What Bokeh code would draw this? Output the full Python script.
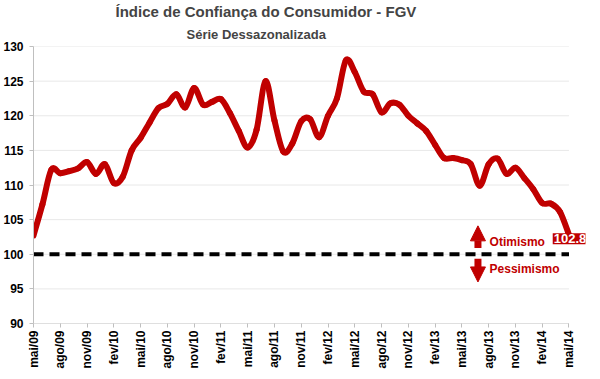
import numpy as np
from bokeh.plotting import figure
from bokeh.models import Range1d, FixedTicker, Label, Arrow, NormalHead, Title
from bokeh.embed import file_html
from bokeh.resources import INLINE

# ---------------- data ----------------
title_text = "Índice de Confiança do Consumidor - FGV"
subtitle_text = "Série Dessazonalizada"

tick_labels = ["mai/09", "ago/09", "nov/09", "fev/10", "mai/10", "ago/10", "nov/10",
               "fev/11", "mai/11", "ago/11", "nov/11", "fev/12", "mai/12", "ago/12",
               "nov/12", "fev/13", "mai/13", "ago/13", "nov/13", "fev/14", "mai/14"]

# monthly values, mai/09 .. mai/14 (61 months)
values = [102.7, 107.2, 112.2, 111.7, 112.0, 112.4, 113.3, 111.6, 113.0, 110.3,
          111.2, 115.0, 116.8, 119.0, 121.1, 121.7, 123.1, 121.2, 124.0, 121.6,
          122.0, 122.4, 120.4, 117.8, 115.4, 118.0, 125.0, 119.3, 114.8, 116.0,
          119.2, 119.5, 116.9, 120.0, 122.5, 128.0, 126.3, 123.5, 123.1, 120.5,
          121.8, 121.6, 120.0, 118.9, 117.8, 115.8, 113.9, 113.9, 113.6, 113.0,
          109.9, 113.0, 113.8, 111.6, 112.5, 111.0, 109.4, 107.4, 107.3, 106.1,
          102.8]
last_label = "102.8"

y_ticks = [90, 95, 100, 105, 110, 115, 120, 125, 130]
neutral_level = 100
up_text = "Otimismo"
down_text = "Pessimismo"

# ---------------- styling ----------------
RED = "#c00000"
FONT = "Liberation Sans"
AXIS_GRAY = "#bfbfbf"
GRID_GRAY = "#e8e8e8"

x = np.arange(len(values), dtype=float)
y = np.array(values, dtype=float)
tick_idx = list(range(0, len(values), 3))
x_first, x_last = x[0], x[-1]

p = figure(width=590, height=371, x_range=Range1d(x_first, x_last + 1.85),
           y_range=Range1d(y_ticks[0], y_ticks[-1]), output_backend="svg",
           toolbar_location=None, title=None,
           min_border_left=27, min_border_right=5, min_border_top=0, min_border_bottom=0)
p.outline_line_color = None
p.background_fill_color = "white"
p.border_fill_color = "white"

# titles
sub = Title(text=subtitle_text, align="left", offset=153, text_font=FONT,
            text_font_style="bold", text_font_size="13px", standoff=10)
main = Title(text=title_text, align="left", offset=82, text_font=FONT,
             text_font_style="bold", text_font_size="15px", standoff=0)
p.add_layout(sub, "above")
p.add_layout(main, "above")

# axes
p.xaxis.ticker = FixedTicker(ticks=tick_idx)
p.xaxis.major_label_overrides = {int(i): lbl for i, lbl in zip(tick_idx, tick_labels)}
p.xaxis.major_label_orientation = np.pi / 2
p.yaxis.ticker = FixedTicker(ticks=y_ticks)
for ax in (p.xaxis, p.yaxis):
    ax.axis_line_color = AXIS_GRAY
    ax.major_tick_line_color = AXIS_GRAY
    ax.major_tick_in = 0
    ax.major_tick_out = 4
    ax.minor_tick_line_color = None
    ax.major_label_text_font = FONT
    ax.major_label_text_font_style = "bold"
    ax.major_label_text_color = "black"
p.xaxis.axis_line_color = None
p.yaxis.major_label_text_font_size = "12px"
p.xaxis.major_label_text_font_size = "12px"
p.yaxis.major_label_standoff = 6
p.xaxis.major_label_standoff = 3
p.xgrid.visible = False
p.ygrid.visible = False

# horizontal gridlines and bottom axis line, limited to the data span
grid_levels = y_ticks[1:]
p.segment(x0=[x_first] * len(grid_levels), x1=[x_last] * len(grid_levels),
          y0=grid_levels, y1=grid_levels, line_color=GRID_GRAY, line_width=1)
p.segment(x0=[x_first], x1=[x_last], y0=[y_ticks[0]], y1=[y_ticks[0]],
          line_color=AXIS_GRAY, line_width=1)

# neutral line
p.line(x=[x_first, x_last], y=[neutral_level, neutral_level], line_color="black",
       line_width=4, line_dash="10 6")

# smooth line (Catmull-Rom -> Bezier, like Excel smoothing)
xp = np.concatenate([[x[0]], x, [x[-1]]])
yp = np.concatenate([[y[0]], y, [y[-1]]])
n = len(x) - 1
x0, y0 = xp[1:n + 1], yp[1:n + 1]
x1, y1 = xp[2:n + 2], yp[2:n + 2]
cx0 = x0 + (x1 - xp[0:n]) / 6.0
cy0 = y0 + (y1 - yp[0:n]) / 6.0
cx1 = x1 - (xp[3:n + 3] - x0) / 6.0
cy1 = y1 - (yp[3:n + 3] - y0) / 6.0
p.bezier(x0=x0, y0=y0, x1=x1, y1=y1, cx0=cx0, cy0=cy0, cx1=cx1, cy1=cy1,
         line_color=RED, line_width=6, line_cap="round")

# arrows and texts
head_up = NormalHead(size=15, fill_color=RED, line_color=RED)
head_dn = NormalHead(size=15, fill_color=RED, line_color=RED)
p.add_layout(Arrow(end=head_up, x_start=49.8, y_start=100.9, x_end=49.8, y_end=104.1,
                   line_color=RED, line_width=7))
p.add_layout(Arrow(end=head_dn, x_start=49.8, y_start=99.35, x_end=49.8, y_end=96.0,
                   line_color=RED, line_width=7))
p.add_layout(Label(x=51.1, y=101.8, text=up_text, text_font=FONT, text_font_style="bold",
                   text_font_size="12px", text_color=RED, text_baseline="middle"))
p.add_layout(Label(x=51.1, y=97.9, text=down_text, text_font=FONT, text_font_style="bold",
                   text_font_size="12px", text_color=RED, text_baseline="middle"))

# last value label
p.add_layout(Label(x=x[-1], y=y[-1], text=last_label, x_offset=1, y_offset=-4,
                   text_align="center", text_baseline="middle", text_font=FONT,
                   text_font_style="bold", text_font_size="13px", text_color="white",
                   background_fill_color=RED, padding=1))

open("out.html", "w").write(file_html(p, INLINE))
